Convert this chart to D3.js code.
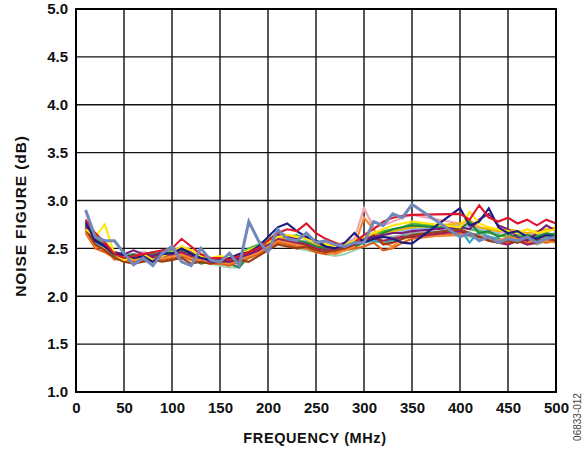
<!DOCTYPE html>
<html><head><meta charset="utf-8">
<script src="https://cdn.jsdelivr.net/npm/d3@7"></script>
<style>
html,body{margin:0;padding:0;background:#fff;}
svg text{font-family:Arial,"Liberation Sans",Helvetica,sans-serif;}
</style></head>
<body><div id="chart"></div>
<script>
// ---- DATA ----
const freqMHz = [10,20,30,40,50,60,70,80,90,100,110,120,130,140,150,160,170,180,190,200,210,220,230,240,250,260,270,280,290,300,310,320,330,340,350,400,410,420,430,440,450,460,470,480,490,500];
const xTicks = [0,50,100,150,200,250,300,350,400,450,500];
const yTicks = [1.0,1.5,2.0,2.5,3.0,3.5,4.0,4.5,5.0];

const navy = [2.78,2.58,2.52,2.44,2.43,2.40,2.42,2.36,2.44,2.45,2.50,2.44,2.40,2.38,2.36,2.40,2.44,2.46,2.52,2.62,2.72,2.76,2.68,2.62,2.58,2.52,2.50,2.56,2.66,2.56,2.60,2.62,2.60,2.56,2.55,2.92,2.74,2.78,2.92,2.72,2.66,2.68,2.62,2.60,2.64,2.62];
const red = [2.80,2.66,2.56,2.44,2.40,2.42,2.44,2.46,2.48,2.50,2.60,2.52,2.44,2.40,2.40,2.38,2.42,2.46,2.50,2.58,2.66,2.70,2.68,2.76,2.66,2.60,2.56,2.52,2.56,2.64,2.70,2.78,2.82,2.84,2.85,2.86,2.80,2.95,2.82,2.78,2.82,2.76,2.80,2.74,2.80,2.76];
const yellow = [2.70,2.62,2.75,2.44,2.38,2.40,2.44,2.38,2.42,2.46,2.52,2.48,2.42,2.40,2.42,2.40,2.44,2.48,2.52,2.56,2.62,2.64,2.62,2.60,2.56,2.54,2.52,2.54,2.58,2.62,2.66,2.70,2.74,2.76,2.78,2.72,2.88,2.76,2.72,2.70,2.68,2.66,2.70,2.66,2.68,2.70];
const green = [2.76,2.60,2.52,2.42,2.40,2.44,2.40,2.44,2.42,2.46,2.48,2.40,2.34,2.36,2.38,2.34,2.30,2.44,2.50,2.56,2.68,2.62,2.58,2.56,2.52,2.50,2.46,2.48,2.52,2.56,2.62,2.66,2.70,2.72,2.74,2.70,2.78,2.66,2.68,2.62,2.66,2.60,2.64,2.62,2.66,2.64];
const purple = [2.74,2.58,2.54,2.46,2.44,2.48,2.44,2.42,2.46,2.44,2.50,2.46,2.42,2.36,2.38,2.36,2.40,2.44,2.48,2.56,2.64,2.62,2.60,2.62,2.56,2.52,2.50,2.52,2.54,2.60,2.62,2.64,2.66,2.66,2.68,2.72,2.70,2.80,2.86,2.74,2.70,2.62,2.58,2.66,2.74,2.68];
const orange = [2.68,2.52,2.50,2.38,2.40,2.38,2.40,2.42,2.40,2.42,2.44,2.40,2.38,2.34,2.36,2.34,2.38,2.42,2.46,2.52,2.58,2.56,2.54,2.52,2.48,2.46,2.44,2.48,2.52,2.82,2.70,2.56,2.52,2.60,2.62,2.64,2.66,2.62,2.60,2.58,2.62,2.60,2.58,2.56,2.58,2.56];
const teal = [2.72,2.56,2.50,2.42,2.44,2.42,2.44,2.40,2.44,2.46,2.46,2.42,2.38,2.36,2.34,2.36,2.40,2.42,2.48,2.58,2.60,2.56,2.50,2.56,2.54,2.50,2.48,2.50,2.52,2.56,2.58,2.56,2.58,2.62,2.64,2.70,2.56,2.68,2.62,2.60,2.56,2.62,2.58,2.60,2.64,2.62];
const pink = [2.74,2.62,2.54,2.46,2.42,2.44,2.46,2.44,2.46,2.48,2.50,2.46,2.44,2.40,2.40,2.38,2.42,2.46,2.50,2.60,2.66,2.64,2.62,2.60,2.58,2.56,2.54,2.56,2.60,2.92,2.72,2.74,2.78,2.82,2.85,2.76,2.74,2.72,2.70,2.68,2.66,2.68,2.64,2.66,2.64,2.66];
const brown = [2.70,2.54,2.48,2.40,2.36,2.34,2.36,2.38,2.36,2.38,2.40,2.34,2.36,2.34,2.36,2.36,2.38,2.36,2.42,2.48,2.54,2.52,2.50,2.52,2.48,2.46,2.48,2.50,2.54,2.56,2.64,2.54,2.56,2.60,2.64,2.70,2.66,2.62,2.58,2.56,2.58,2.56,2.60,2.58,2.60,2.58];
const grey = [2.72,2.58,2.50,2.44,2.42,2.40,2.42,2.44,2.42,2.44,2.46,2.44,2.40,2.38,2.36,2.38,2.40,2.44,2.48,2.56,2.60,2.58,2.56,2.54,2.52,2.50,2.48,2.52,2.54,2.58,2.60,2.62,2.62,2.64,2.66,2.68,2.66,2.64,2.62,2.60,2.58,2.56,2.60,2.54,2.58,2.60];
const mint = [2.70,2.56,2.50,2.42,2.40,2.42,2.42,2.40,2.40,2.44,2.44,2.40,2.36,2.34,2.32,2.30,2.30,2.40,2.44,2.52,2.58,2.54,2.50,2.48,2.46,2.44,2.42,2.44,2.48,2.52,2.56,2.58,2.58,2.60,2.62,2.64,2.62,2.60,2.62,2.58,2.60,2.62,2.60,2.62,2.60,2.62];
const lime = [2.76,2.60,2.54,2.46,2.44,2.42,2.44,2.46,2.44,2.48,2.48,2.44,2.40,2.38,2.40,2.38,2.44,2.50,2.54,2.60,2.64,2.62,2.64,2.60,2.58,2.54,2.52,2.54,2.58,2.62,2.66,2.68,2.70,2.72,2.76,2.72,2.70,2.68,2.66,2.64,2.62,2.64,2.62,2.64,2.62,2.66];
const maroon = [2.72,2.58,2.52,2.44,2.40,2.40,2.42,2.40,2.42,2.44,2.46,2.42,2.40,2.38,2.38,2.40,2.42,2.44,2.48,2.54,2.60,2.58,2.56,2.54,2.50,2.48,2.50,2.52,2.54,2.58,2.60,2.58,2.60,2.62,2.62,2.68,2.64,2.62,2.58,2.56,2.54,2.58,2.54,2.56,2.60,2.58];
const lightBlue = [2.74,2.60,2.54,2.46,2.44,2.44,2.46,2.44,2.46,2.46,2.48,2.46,2.42,2.40,2.40,2.38,2.42,2.46,2.50,2.56,2.62,2.60,2.58,2.58,2.56,2.52,2.50,2.54,2.56,2.60,2.62,2.64,2.66,2.68,2.70,2.74,2.72,2.70,2.68,2.66,2.68,2.66,2.64,2.66,2.68,2.70];
const darkOrange = [2.66,2.50,2.46,2.40,2.38,2.36,2.38,2.36,2.38,2.40,2.42,2.38,2.36,2.34,2.34,2.32,2.36,2.40,2.44,2.50,2.56,2.54,2.52,2.50,2.46,2.44,2.46,2.48,2.50,2.52,2.56,2.48,2.50,2.56,2.60,2.66,2.64,2.62,2.60,2.58,2.56,2.58,2.56,2.58,2.56,2.58];
const gold = [2.72,2.60,2.58,2.44,2.40,2.42,2.40,2.42,2.44,2.44,2.48,2.44,2.40,2.40,2.38,2.40,2.42,2.46,2.52,2.58,2.62,2.60,2.58,2.56,2.54,2.52,2.50,2.52,2.56,2.60,2.64,2.66,2.68,2.70,2.72,2.76,2.80,2.72,2.70,2.68,2.70,2.68,2.66,2.68,2.70,2.72];
const slate = [2.90,2.62,2.58,2.58,2.45,2.33,2.40,2.32,2.45,2.52,2.36,2.32,2.50,2.38,2.36,2.45,2.32,2.78,2.58,2.46,2.70,2.60,2.58,2.66,2.56,2.58,2.54,2.52,2.56,2.56,2.78,2.74,2.86,2.82,2.96,2.62,2.66,2.58,2.62,2.56,2.60,2.58,2.62,2.56,2.60,2.62];

const seriesNames = ["mint","grey","lightBlue","teal","pink","gold","lime","green","darkOrange","orange","maroon","brown","purple","yellow","navy","red","slate"];
const seriesValues = [mint,grey,lightBlue,teal,pink,gold,lime,green,darkOrange,orange,maroon,brown,purple,yellow,navy,red,slate];
const seriesColors = ["#9fd3b6","#a3a3a3","#93bde0","#2aa8c4","#f2a3b3","#f0b400","#55b848","#1e8a3a","#e0601a","#f7862e","#a0205a","#9a3b12","#7a1d7a","#ffe600","#1b1b80","#e0142a","#7189ba"];

const xTitle = "FREQUENCY (MHz)";
const yTitle = "NOISE FIGURE (dB)";
const figId = "06833-012";

// ---- DRAW ----
const W = 588, H = 450;
const L = 76, R = 556, T = 9, B = 392;
const svg = d3.select("#chart").append("svg").attr("width", W).attr("height", H);

const x = d3.scaleLinear().domain([0, 500]).range([L, R]);
const y = d3.scaleLinear().domain([1, 5]).range([B, T]);

// grid
const grid = svg.append("g");
grid.selectAll("line.vx").data(xTicks.slice(1, -1)).enter().append("line")
  .attr("x1", d => x(d)).attr("x2", d => x(d)).attr("y1", T).attr("y2", B)
  .attr("stroke", "#111").attr("stroke-width", 1.4);
grid.selectAll("line.hy").data(yTicks.slice(1, -1)).enter().append("line")
  .attr("y1", d => y(d)).attr("y2", d => y(d)).attr("x1", L).attr("x2", R)
  .attr("stroke", "#111").attr("stroke-width", 1.4);

// series
const line = d3.line().x((d, i) => x(freqMHz[i])).y(d => y(d));
const lines = svg.append("g");
seriesValues.forEach((vals, k) => {
  lines.append("path").datum(vals)
    .attr("d", line)
    .attr("fill", "none")
    .attr("stroke", seriesColors[k])
    .attr("stroke-width", seriesNames[k] === "slate" ? 3 : 2.1)
    .attr("stroke-linejoin", "miter");
});

// frame
svg.append("rect").attr("x", L).attr("y", T).attr("width", R - L).attr("height", B - T)
  .attr("fill", "none").attr("stroke", "#000").attr("stroke-width", 2);

// axes (labels only)
const xAxis = d3.axisBottom(x).tickValues(xTicks).tickSize(0).tickPadding(10).tickFormat(d3.format("d"));
const gx = svg.append("g").attr("transform", `translate(0,${B})`).call(xAxis);
gx.select(".domain").remove();
gx.selectAll("text").attr("font-size", 15).attr("font-weight", "bold").attr("fill", "#111")
  .attr("font-family", "Arial, 'Liberation Sans', sans-serif");

const yAxis = d3.axisLeft(y).tickValues(yTicks).tickSize(0).tickPadding(8).tickFormat(d3.format(".1f"));
const gy = svg.append("g").attr("transform", `translate(${L},0)`).call(yAxis);
gy.select(".domain").remove();
gy.selectAll("text").attr("font-size", 15).attr("font-weight", "bold").attr("fill", "#111")
  .attr("font-family", "Arial, 'Liberation Sans', sans-serif");

// titles
svg.append("text").attr("x", 315).attr("y", 443).attr("text-anchor", "middle")
  .attr("font-size", 14.5).attr("font-weight", "bold").attr("letter-spacing", "0.6px").attr("fill", "#111")
  .text(xTitle);
svg.append("text").attr("transform", "translate(26,216) rotate(-90)").attr("text-anchor", "middle")
  .attr("font-size", 15.5).attr("font-weight", "bold").attr("letter-spacing", "0.9px").attr("fill", "#111")
  .text(yTitle);
svg.append("text").attr("transform", "translate(581,417) rotate(-90)").attr("text-anchor", "middle")
  .attr("font-size", 10).attr("fill", "#444")
  .text(figId);
</script>
</body></html>
